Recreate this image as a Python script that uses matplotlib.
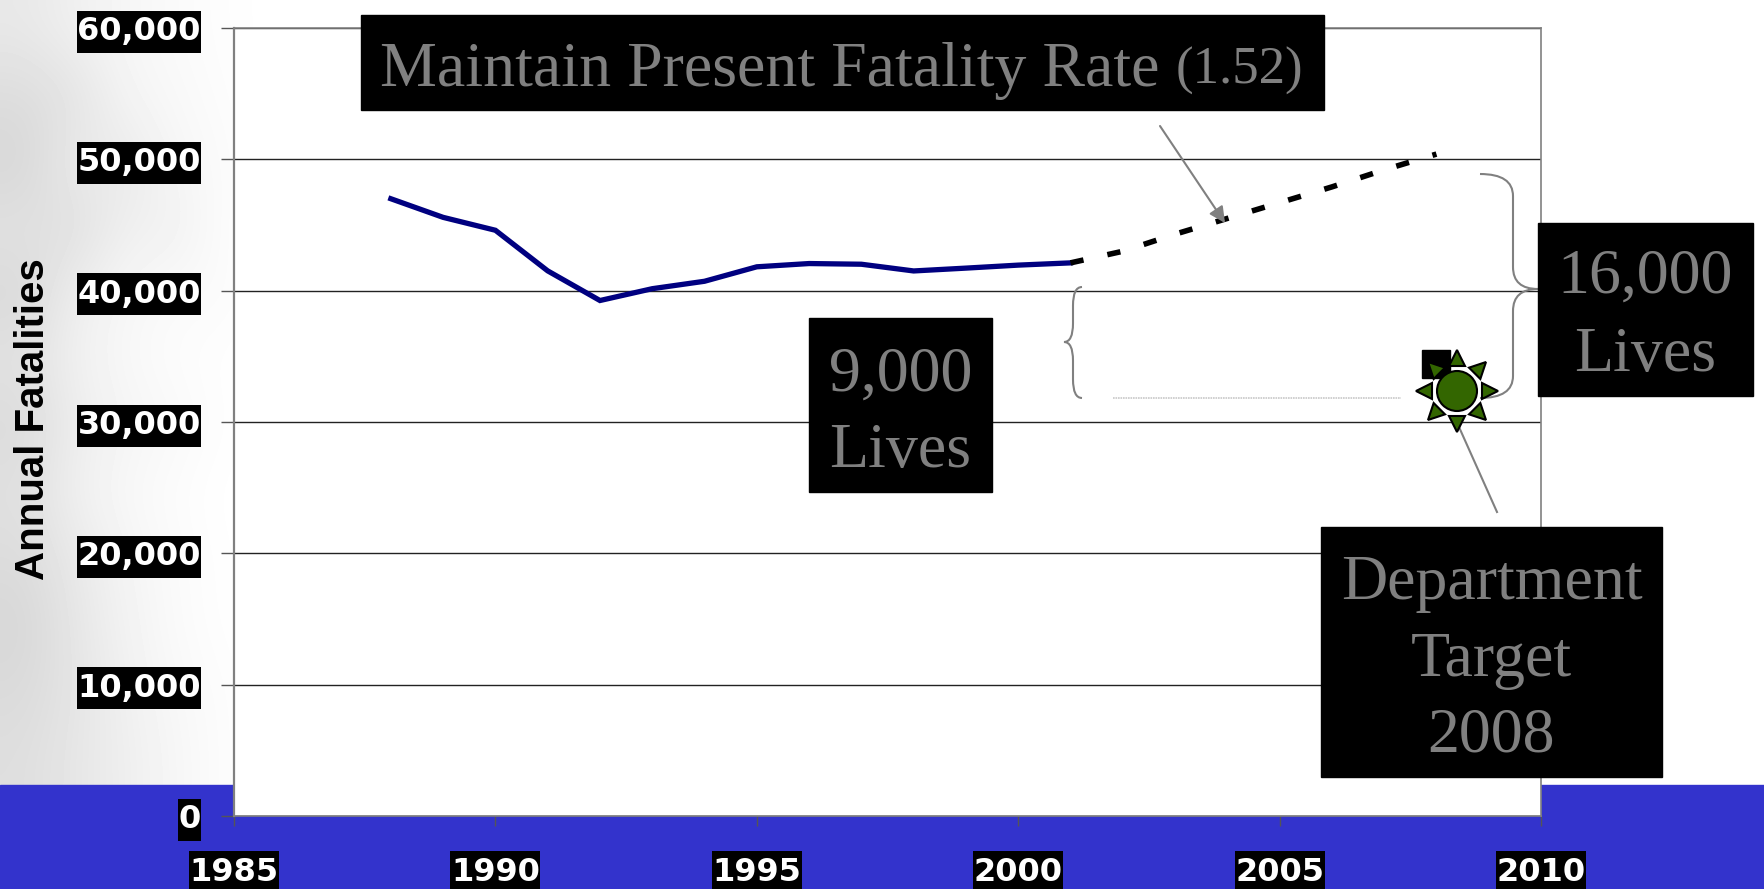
import numpy as np
from matplotlib import pyplot as plt
from matplotlib.patches import Rectangle, Circle, Polygon, PathPatch
from matplotlib.path import Path

W = 1764
H = 889

years = [1988, 1989, 1990, 1991, 1992, 1993, 1994, 1995, 1996, 1997, 1998, 1999, 2000, 2001]
fatalities = [47000, 45582, 44599, 41508, 39250, 40150, 40716, 41817, 42065, 42013, 41501, 41717, 41945, 42116]
proj_years = [2001, 2002, 2003, 2004, 2005, 2006, 2007, 2008]
proj_values = [42116, 43000, 44300, 45500, 46700, 47900, 49200, 50400]
target_year = [2008]
target_value = [34400]
x_ticks = [1985, 1990, 1995, 2000, 2005, 2010]
y_ticks = [0, 10000, 20000, 30000, 40000, 50000, 60000]

# soft grey backdrop on the left side of the slide
backdrop = [
    [232, 240, 246, 250, 253, 255],
    [220, 226, 244, 248, 252, 255],
    [214, 236, 232, 246, 250, 255],
    [226, 222, 240, 240, 252, 255],
    [216, 238, 246, 250, 250, 255],
    [226, 240, 248, 252, 254, 255],
    [218, 236, 244, 248, 253, 255],
    [224, 240, 248, 252, 255, 255],
    [220, 232, 244, 250, 254, 255],
    [214, 230, 242, 250, 254, 255],
    [218, 228, 240, 248, 252, 255],
    [222, 230, 238, 246, 252, 255],
]

fig = plt.figure(figsize=(W / 100, H / 100), dpi=100)

bg = fig.add_axes([0, 0, 1, 1], zorder=-1)
bg.set_xlim(0, W)
bg.set_ylim(H, 0)
bg.axis('off')
bg.imshow(backdrop, extent=(0, 300, 785, 0), cmap='gray', vmin=0, vmax=255,
          interpolation='bicubic', aspect='auto')
bg.add_patch(Rectangle((300, 0), W - 300, 785, color='white'))
bg.add_patch(Rectangle((0, 785), W, H - 785, color='#3333cc'))
bg.set_xlim(0, W)
bg.set_ylim(H, 0)

left, right, top, bottom = 234, 1541, 28, 816
ax = fig.add_axes([left / W, 1 - bottom / H, (right - left) / W, (bottom - top) / H], zorder=1)
ax.set_facecolor('white')
ax.set_xlim(1985, 2010)
ax.set_ylim(0, 60000)
ax.plot(years, fatalities, color='#000080', lw=3.8, solid_joinstyle='miter', zorder=3)
ax.plot(proj_years, proj_values, color='black', lw=4, dashes=(2.4, 4.4), zorder=4)
ax.plot(target_year, target_value, 's', color='black', ms=20, zorder=4)

ax.set_xticks(x_ticks)
ax.set_yticks(y_ticks)
ax.set_yticklabels(['{:,}'.format(v) for v in y_ticks])
ax.grid(axis='y', color='#222222', lw=1)
ax.set_axisbelow(True)
for s in ax.spines.values():
    s.set_color('#808080')
    s.set_linewidth(1.2)
ax.spines['left'].set_linewidth(1.6)
ax.tick_params(axis='y', length=9.5, width=1, color='#555555', pad=14.5)
ax.tick_params(axis='x', length=7.5, width=1, color='#555555', pad=22)


def tight_box(x0, y0, width, height, mutation_size):
    # label box with small side margins and taller top and bottom
    dx = 0.5
    dy = 5.5
    return Path([(x0 - dx, y0 - dy), (x0 + width + dx, y0 - dy), (x0 + width + dx, y0 + height + dy),
                 (x0 - dx, y0 + height + dy), (x0 - dx, y0 - dy)], closed=True)


for t in ax.get_yticklabels() + ax.get_xticklabels():
    t.set_fontfamily('DejaVu Sans')
    t.set_fontweight('bold')
    t.set_fontsize(23)
    t.set_color('white')
    t.set_bbox(dict(boxstyle=tight_box, facecolor='black', edgecolor='black', lw=0))

ov = fig.add_axes([0, 0, 1, 1], zorder=2)
ov.set_xlim(0, W)
ov.set_ylim(H, 0)
ov.axis('off')

fig.text(33 / W, 1 - 419 / H, 'Annual Fatalities', rotation=90, ha='center', va='center',
         family='Liberation Sans', fontweight='bold', fontsize=29, color='black', zorder=3)

GREY = '#808080'


def label_box(x0, y0, x1, y1, lines, size=46):
    ov.add_patch(Rectangle((x0, y0), x1 - x0, y1 - y0, color='black', zorder=5))
    for line, yc in lines:
        ov.text((x0 + x1) / 2, yc, line, ha='center', va='center', family='Liberation Serif',
                fontsize=size, color=GREY, zorder=6)


def brace(x_end, x_spine, x_tip, y0, y1, y_mid):
    r = min(22, (y1 - y0) / 6)
    verts = [(x_end, y0), (x_spine, y0), (x_spine, y0 + r),
             (x_spine, y_mid - r), (x_spine, y_mid), (x_tip, y_mid),
             (x_spine, y_mid), (x_spine, y_mid + r),
             (x_spine, y1 - r), (x_spine, y1), (x_end, y1)]
    codes = [Path.MOVETO, Path.CURVE3, Path.CURVE3,
             Path.LINETO, Path.CURVE3, Path.CURVE3,
             Path.CURVE3, Path.CURVE3,
             Path.LINETO, Path.CURVE3, Path.CURVE3]
    ov.add_patch(PathPatch(Path(verts, codes), fill=False, edgecolor=GREY, lw=1.5, zorder=4))


brace(1082, 1073, 1064, 287, 398, 342)
brace(1480, 1513, 1538, 174, 398, 289)
ov.plot([1113, 1401], [398, 398], color='#c8c8c8', lw=1.2, ls=(0, (1, 0.5)), zorder=4)

ov.annotate('', xy=(1225, 223), xytext=(1160, 126), zorder=5,
            arrowprops=dict(arrowstyle='-|>', color=GREY, lw=1.5, mutation_scale=24, shrinkA=0, shrinkB=0))
ov.plot([1497, 1459], [512, 427], color=GREY, lw=1.5, zorder=4)

# sun symbol for the target
cx, cy = 1457, 391
for a in np.arange(0, 360, 45):
    ang = np.radians(a)
    ux, uy = np.cos(ang), np.sin(ang)
    px, py = -uy, ux
    tri = [(cx + 25 * ux + 8 * px, cy + 25 * uy + 8 * py),
           (cx + 25 * ux - 8 * px, cy + 25 * uy - 8 * py),
           (cx + 41 * ux, cy + 41 * uy)]
    ov.add_patch(Polygon(tri, facecolor='#336600', edgecolor='black', lw=1.5, zorder=5))
ov.add_patch(Circle((cx, cy), 20, facecolor='#336600', edgecolor='black', lw=1.5, zorder=5))

label_box(361, 15, 1324, 110, [])
ov.text(380, 71, 'Maintain Present Fatality Rate', ha='left', va='center', family='Liberation Serif',
        fontsize=46, color=GREY, zorder=6)
ov.text(1176, 71, '(1.52)', ha='left', va='center', family='Liberation Serif',
        fontsize=38, color=GREY, zorder=6)
label_box(809, 318, 992, 492, [('9,000', 376), ('Lives', 452)])
label_box(1538, 223, 1753, 396, [('16,000', 278), ('Lives', 356)])
label_box(1321, 527, 1662, 777, [('Department', 584), ('Target', 661), ('2008', 737)])

fig.savefig('out.png', dpi=100)
